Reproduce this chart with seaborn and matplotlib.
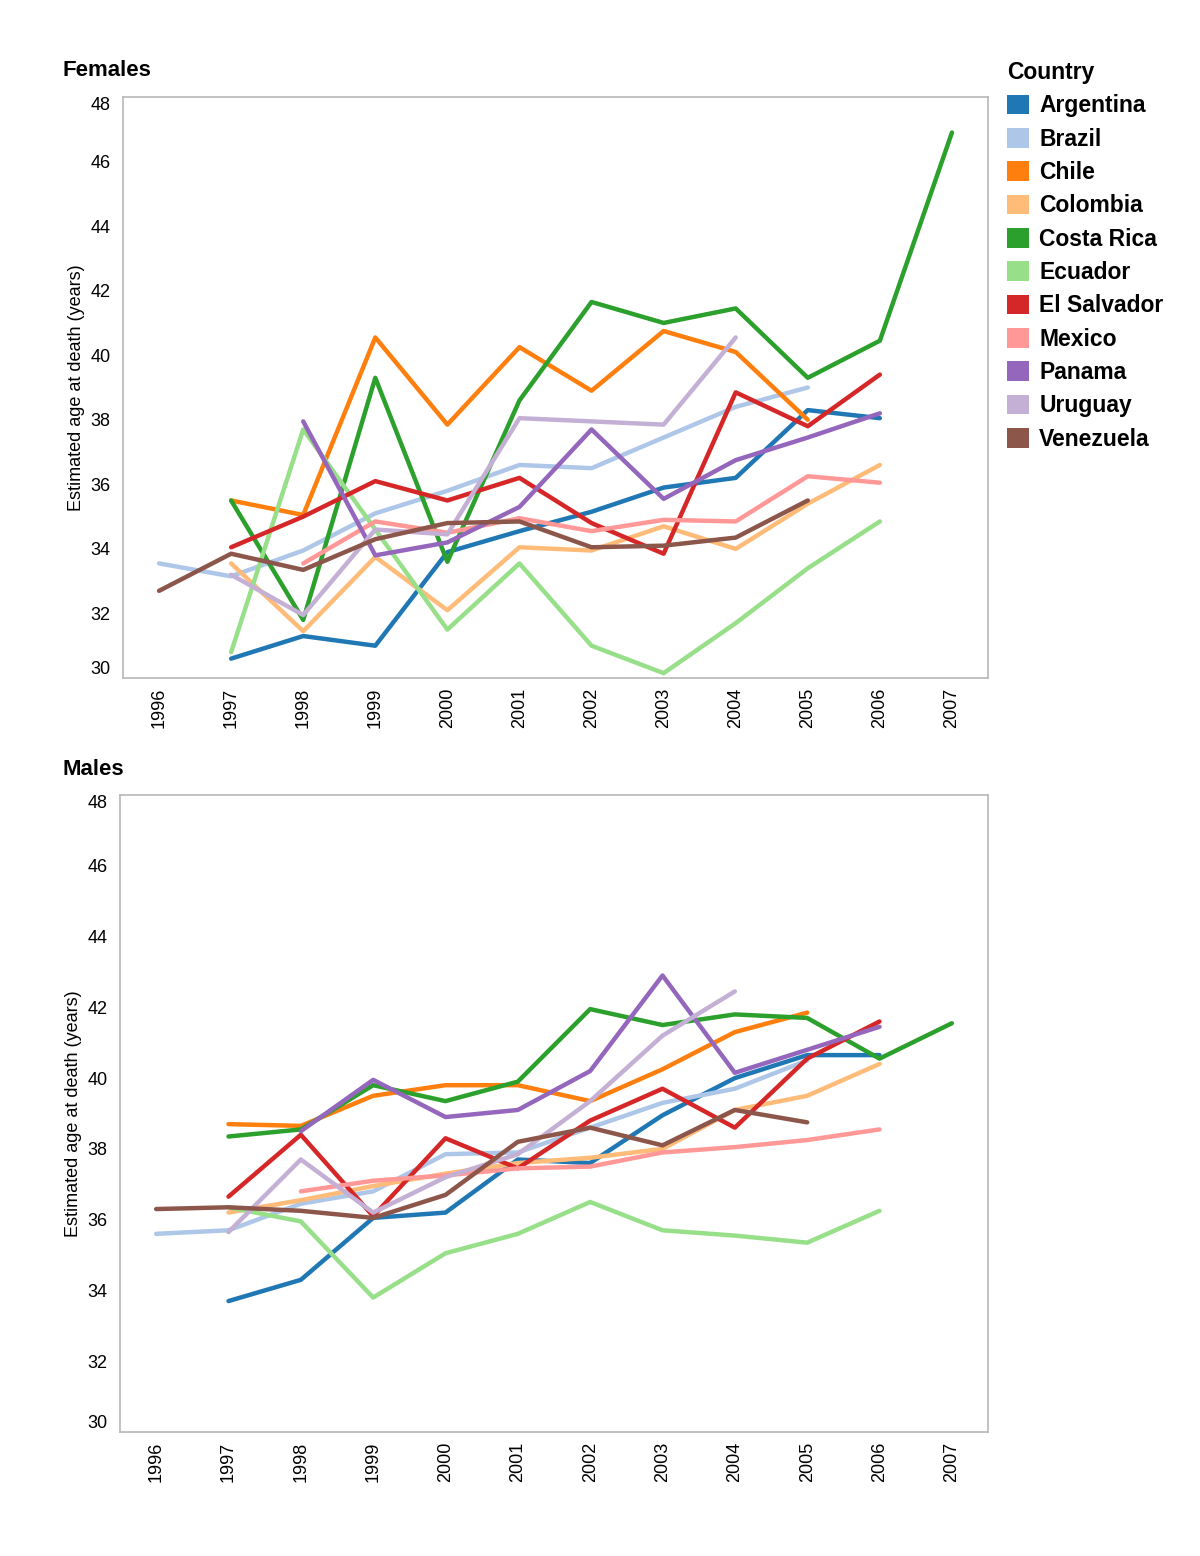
import matplotlib
matplotlib.use("Agg")
import matplotlib.pyplot as plt
import matplotlib.patches as mpatches
import pandas as pd
import seaborn as sns

years = list(range(1996, 2008))
countries = ['Argentina', 'Brazil', 'Chile', 'Colombia', 'Costa Rica', 'Ecuador',
             'El Salvador', 'Mexico', 'Panama', 'Uruguay', 'Venezuela']
colors = ['#1f77b4', '#aec7e8', '#ff7f0e', '#ffbb78', '#2ca02c', '#98df8a',
          '#d62728', '#ff9896', '#9467bd', '#c5b0d5', '#8c564b']

N = None
# Females, 1996..2007
f_argentina = [N, 30.6, 31.3, 31.0, 33.9, 34.55, 35.15, 35.9, 36.2, 38.3, 38.05, N]
f_brazil = [33.55, 33.15, 33.95, 35.1, 35.8, 36.6, 36.5, 37.45, 38.4, 39.0, N, N]
f_chile = [N, 35.5, 35.05, 40.55, 37.85, 40.25, 38.9, 40.75, 40.1, 38.0, N, N]
f_colombia = [N, 33.55, 31.45, 33.75, 32.1, 34.05, 33.95, 34.7, 34.0, 35.4, 36.6, N]
f_costa_rica = [N, 35.5, 31.8, 39.3, 33.6, 38.6, 41.65, 41.0, 41.45, 39.3, 40.45, 46.9]
f_ecuador = [N, 30.8, 37.7, 34.6, 31.5, 33.55, 31.0, 30.15, 31.7, 33.4, 34.85, N]
f_el_salvador = [N, 34.05, 35.0, 36.1, 35.5, 36.2, 34.8, 33.85, 38.85, 37.8, 39.4, N]
f_mexico = [N, N, 33.55, 34.85, 34.5, 34.95, 34.55, 34.9, 34.85, 36.25, 36.05, N]
f_panama = [N, N, 37.95, 33.8, 34.2, 35.3, 37.7, 35.55, 36.75, 37.45, 38.2, N]
f_uruguay = [N, 33.2, 31.95, 34.6, 34.45, 38.05, 37.95, 37.85, 40.55, N, N, N]
f_venezuela = [32.7, 33.85, 33.35, 34.3, 34.8, 34.85, 34.05, 34.1, 34.35, 35.5, N, N]

# Males, 1996..2007
m_argentina = [N, 33.7, 34.3, 36.05, 36.2, 37.7, 37.6, 38.95, 40.0, 40.65, 40.65, N]
m_brazil = [35.6, 35.7, 36.45, 36.8, 37.85, 37.9, 38.6, 39.3, 39.7, 40.5, N, N]
m_chile = [N, 38.7, 38.65, 39.5, 39.8, 39.8, 39.35, 40.25, 41.3, 41.85, N, N]
m_colombia = [N, 36.2, 36.55, 36.95, 37.3, 37.6, 37.75, 38.0, 39.1, 39.5, 40.4, N]
m_costa_rica = [N, 38.35, 38.55, 39.8, 39.35, 39.9, 41.95, 41.5, 41.8, 41.7, 40.55, 41.55]
m_ecuador = [N, 36.35, 35.95, 33.8, 35.05, 35.6, 36.5, 35.7, 35.55, 35.35, 36.25, N]
m_el_salvador = [N, 36.65, 38.4, 36.1, 38.3, 37.45, 38.8, 39.7, 38.6, 40.55, 41.6, N]
m_mexico = [N, N, 36.8, 37.1, 37.25, 37.45, 37.5, 37.9, 38.05, 38.25, 38.55, N]
m_panama = [N, N, 38.5, 39.95, 38.9, 39.1, 40.2, 42.9, 40.15, 40.8, 41.45, N]
m_uruguay = [N, 35.65, 37.7, 36.2, 37.2, 37.85, 39.35, 41.2, 42.45, N, N, N]
m_venezuela = [36.3, 36.35, 36.25, 36.05, 36.7, 38.2, 38.6, 38.1, 39.1, 38.75, N, N]

females = [f_argentina, f_brazil, f_chile, f_colombia, f_costa_rica, f_ecuador,
           f_el_salvador, f_mexico, f_panama, f_uruguay, f_venezuela]
males = [m_argentina, m_brazil, m_chile, m_colombia, m_costa_rica, m_ecuador,
         m_el_salvador, m_mexico, m_panama, m_uruguay, m_venezuela]


def to_frame(series):
    rows = []
    for country, vals in zip(countries, series):
        for i, v in enumerate(vals):
            if v is not None:
                rows.append({'Country': country, 'pos': i, 'age': v})
    return pd.DataFrame(rows)


sns.set_style('white')
plt.rcParams['font.family'] = ['Liberation Sans', 'DejaVu Sans']
plt.rcParams['text.color'] = 'black'
plt.rcParams['xtick.color'] = 'black'
plt.rcParams['ytick.color'] = 'black'
plt.rcParams['axes.labelcolor'] = 'black'

fig = plt.figure(figsize=(12, 15.56), dpi=100)
W, H = 1200, 1556
grey = '#b8b8b8'
palette = dict(zip(countries, colors))


def panel(box, series, title, title_y):
    left, top, right, bottom = box
    ax = fig.add_axes([left / W, 1 - bottom / H, (right - left) / W, (bottom - top) / H])
    sns.lineplot(data=to_frame(series), x='pos', y='age', hue='Country', hue_order=countries,
                 palette=palette, linewidth=3.2, legend=False, errorbar=None, ax=ax)
    ax.set_xlim(-0.5, len(years) - 0.5)
    ax.set_ylim(30, 48)
    ax.set_yticks(range(30, 49, 2))
    ax.set_yticklabels([str(v) for v in range(30, 49, 2)], fontsize=13)
    ticks = ax.get_yticklabels()
    ticks[0].set_va('bottom')
    ticks[-1].set_va('top')
    ax.tick_params(axis='y', length=0, pad=9)
    ax.set_xticks(range(len(years)))
    ax.set_xticklabels([str(y) for y in years], rotation=90, fontsize=13)
    ax.set_xticks([i - 0.5 for i in range(len(years) + 1)], minor=True)
    ax.tick_params(axis='x', which='major', length=0, pad=7)
    ax.tick_params(axis='x', which='minor', length=7, color=grey, width=1.2)
    for s in ax.spines.values():
        s.set_color(grey)
        s.set_linewidth(1.2)
    ax.set_xlabel('')
    ax.set_ylabel('Estimated age at death (years)', fontsize=13, labelpad=4)
    fig.text(62 / W, 1 - title_y / H, title, fontsize=16, fontweight='bold', va='center')
    return ax


panel((123, 97, 988, 678), females, 'Females', 71)
panel((120, 795, 988, 1432), males, 'Males', 769)

handles = [mpatches.Patch(facecolor=c, edgecolor='none', label=n) for n, c in zip(countries, colors)]
leg = fig.legend(handles=handles, loc='upper left', bbox_to_anchor=(998 / W, 1 - 52 / H),
                 frameon=False, title='Country', alignment='left',
                 prop={'weight': 'bold', 'size': 16.5},
                 title_fontproperties={'weight': 'bold', 'size': 16.5},
                 handlelength=0.95, handleheight=0.95, handletextpad=0.45,
                 labelspacing=0.45, borderaxespad=0)

fig.savefig('out.png', dpi=100)
